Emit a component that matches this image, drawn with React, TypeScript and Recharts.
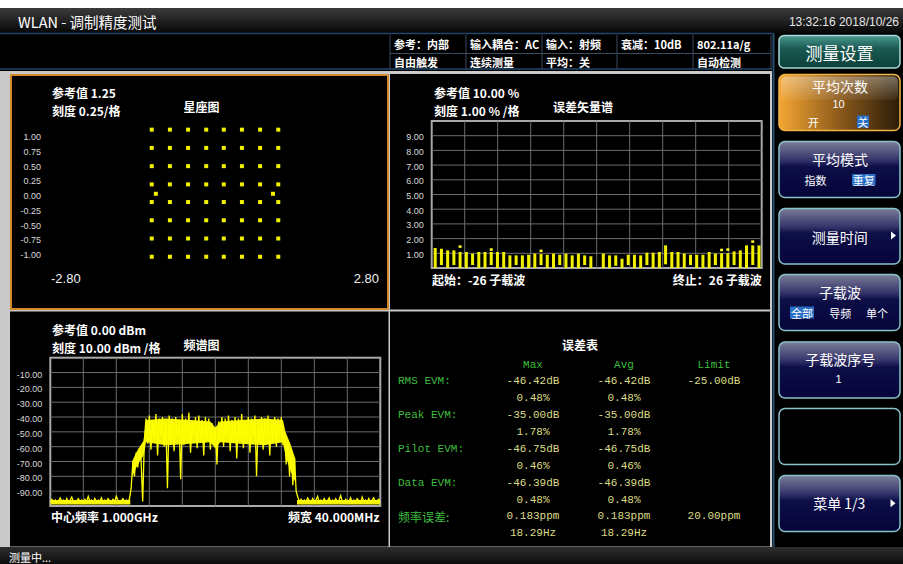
import React from 'react';
import { ScatterChart, Scatter, XAxis, YAxis, ComposedChart, Bar, Line, Area, CartesianGrid } from 'recharts';

// ---------- Constellation (星座图) ----------
const iLevels = [-1.08, -0.77, -0.46, -0.15, 0.15, 0.46, 0.77, 1.08];
const qLevels = [1.13, 0.82, 0.51, 0.2, -0.1, -0.41, -0.72, -1.03];
const pilotI = [-1.01, 0.99];
const pilotQ = [0.04, 0.04];
const constTicks = [-1, -0.75, -0.5, -0.25, 0, 0.25, 0.5, 0.75, 1];
const constXTicks = [-2.8, 2.8];

// ---------- EVM spectrum (误差矢量谱) ----------
const subcarriers = [-26,-25,-24,-23,-22,-21,-20,-19,-18,-17,-16,-15,-14,-13,-12,-11,-10,-9,-8,-7,-6,-5,-4,-3,-2,-1,0,1,2,3,4,5,6,7,8,9,10,11,12,13,14,15,16,17,18,19,20,21,22,23,24,25,26];
const evmHigh = [1.36,1.31,1.2,1.2,1.09,1.09,0.98,1.09,1.09,1.09,1.09,1.09,0.86,0.86,0.86,0.9,0.98,0.95,0.9,0.98,0.9,0.98,0.86,0.98,0.86,0.8,null,0.98,0.86,0.86,0.63,0.9,0.9,0.86,1.04,1.04,1.09,1.54,1.09,1.09,0.98,0.9,0.9,0.9,1.09,0.98,1.0,1.0,1.13,1.2,1.54,1.54,1.54];
const evmLow = [0,0.2,0,0.2,0,0,0.2,0,0,0.2,0,0,0,0.2,0,0,0,0.2,0,0,0.2,0,0,0,0.2,0,null,0,0,0.15,0,0.2,0,0,0.2,0,0,0.25,0,0,0,0.2,0,0,0,0.2,0,0,0.2,0,0,0.2,0];
const evmPeak = [null,null,null,null,1.54,null,null,null,null,1.34,null,null,null,null,null,null,null,1.25,null,null,null,null,null,null,null,null,null,null,null,null,null,null,null,null,null,null,null,null,null,null,null,null,null,null,null,null,1.31,1.34,null,null,null,1.88,null];
const evmTicks = [0,1,2,3,4,5,6,7,8,9,10];

// ---------- Spectrum (频谱图) ----------
const specStartMHz = -20;
const specStepMHz = 0.2;
const floorLeft = [-97,-95.5,-97.5,-96,-98,-96.5,-94.5,-97,-96,-98,-95,-97.5,-96,-94,-97,-98,-96.5,-95,-97,-96,-98,-95.5,-97,-93.5,-97,-96,-98,-95,-97.5,-96,-97,-94.5,-98,-96,-97,-95,-96.5,-98,-95.5,-97,-93.5,-96,-98,-96.5,-95,-97,-96,-98,-95];
const skirtLeft = [-88,-71,-80,-64,-74,-61,-69,-97,-56];
const bandLevels = [-41,-58,-39,-62,-42,-55,-38,-66,-41,-52,-40,-60,-43,-88,-39,-57,-41,-63,-40,-54,-42,-82,-38,-59,-41,-56,-37,-64,-42,-53,-40,-61,-39,-57,-42,-66,-40,-55,-41,-62,-44,-58,-47,-72,-43,-56,-40,-60,-41,-54,-39,-63,-42,-57,-40,-68,-41,-55,-38,-61,-42,-56,-40,-64,-41,-53,-39,-80,-42,-58,-40,-62,-41,-55,-39,-66,-42,-57,-40,-60,-41,-54,-40,-59];
const skirtRight = [-50,-72,-56,-80,-62,-86,-68,-90];
const floorRight = [-94,-97,-95.5,-98,-96,-97,-94.5,-96.5,-98,-95,-97,-96,-93.5,-97.5,-96,-98,-95,-97,-96.5,-94.5,-98,-96,-97,-95,-97.5,-96,-93,-97,-98,-95.5,-96.5,-97,-94.5,-98,-96,-97,-95,-96.5,-98,-94,-97,-96,-97.5,-95,-98,-96,-94.5,-97,-96.5,-95.5,-97];
// dense core of the trace (envelope)
const coreFreq = [-10.1, -9.4, -8.7, -8.4, -6, -3, -0.6, 0, 0.6, 3, 6, 8.2, 8.5, 9.1, 9.7];
const coreHi = [-70, -62, -56, -42, -41, -42, -43, -47, -43, -42, -41, -42, -50, -58, -68];
const coreLo = [-80, -72, -66, -57, -59, -58, -57, -61, -57, -58, -59, -57, -66, -76, -84];
const floorFreq = [-20, -10.3, 0, 9.9, 20];
const floorHi = [-96, -96, null, -96, -96];
const floorLo = [-99, -99, null, -99, -99];
const specTicks = [-100,-90,-80,-70,-60,-50,-40,-30,-20,-10,0];

// ---------- Error table (误差表) ----------
const rowLabels = ['RMS EVM:', 'Peak EVM:', 'Pilot EVM:', 'Data EVM:', '频率误差:'];
const maxVals = [['-46.42dB', '0.48%'], ['-35.00dB', '1.78%'], ['-46.75dB', '0.46%'], ['-46.39dB', '0.48%'], ['0.183ppm', '18.29Hz']];
const avgVals = [['-46.42dB', '0.48%'], ['-35.00dB', '1.78%'], ['-46.75dB', '0.46%'], ['-46.39dB', '0.48%'], ['0.183ppm', '18.29Hz']];
const limitVals = ['-25.00dB', '', '', '', '20.00ppm'];

// ---------- tables for the library ----------
const constData = qLevels.flatMap((q) => iLevels.map((i) => ({ i, q })));
const pilotData = pilotI.map((i, k) => ({ i, q: pilotQ[k] }));
const evmTable = subcarriers.map((sc, k) => ({
  sc,
  rng: evmHigh[k] == null ? null : [evmLow[k], evmHigh[k]],
  pk: evmPeak[k],
}));
const specLevels = [...floorLeft, ...skirtLeft, ...bandLevels, ...skirtRight, ...floorRight];
const specTable = specLevels.map((lvl, k) => ({ f: +(specStartMHz + k * specStepMHz).toFixed(2), lvl }));
const coreTable = coreFreq.map((f, k) => ({ f, core: [coreLo[k], coreHi[k]] }));
const floorTable = floorFreq.map((f, k) => ({ f, fl: floorHi[k] == null ? null : [floorLo[k], floorHi[k]] }));

const F_CJK = "'Noto Sans CJK SC', 'Noto Sans', sans-serif";
const F_SANS = "'Liberation Sans', Arial, sans-serif";
const F_MONO = "'Liberation Mono', 'DejaVu Sans Mono', monospace";

const makeYTick = (hide: number[], dy: number) => (p: any) => {
  const v = p.payload.value;
  if (hide.includes(v)) return <g />;
  return (
    <text x={p.x} y={p.y + dy} textAnchor="end" dominantBaseline="central" fontSize={9} fill="#d8d8d8" fontFamily={F_SANS}>
      {v.toFixed(2)}
    </text>
  );
};

const EdgeTick = (p: any) => {
  const v = p.payload.value;
  return (
    <text x={p.x} y={p.y + 9} textAnchor={v < 0 ? 'start' : 'end'} dominantBaseline="central" fontSize={13} fill="#f0f0f0" fontFamily={F_SANS}>
      {v.toFixed(2)}
    </text>
  );
};

const gridV = (args: any) => {
  const o = args.offset;
  return [1, 2, 3, 4, 5, 6, 7, 8, 9].map((k) => o.left + (k * o.width) / 10);
};
const gridH = (args: any) => {
  const o = args.offset;
  return [1, 2, 3, 4, 5, 6, 7, 8, 9].map((k) => o.top + (k * o.height) / 10);
};

const T = (x: number, y: number, s: string, o: any = {}) => (
  <text
    x={x}
    y={y}
    dominantBaseline="central"
    textAnchor={o.anchor || 'start'}
    fontSize={o.size || 12}
    fontWeight={o.weight || 'normal'}
    fill={o.fill || '#fff'}
    fontFamily={o.font || F_CJK}
  >
    {s}
  </text>
);

function MenuButton({ y, h, kind }: { y: number; h: number; kind: string }) {
  const x = 779;
  const w = 121;
  if (kind === 'orange') {
    return (
      <g>
        <rect x={x} y={y} width={w} height={h} rx={6} fill="url(#gOrange)" stroke="#f2b546" strokeWidth={1.5} />
        <rect x={x + 2} y={y + 2} width={w - 4} height={h * 0.42} rx={5} fill="url(#gGloss)" />
      </g>
    );
  }
  if (kind === 'empty') {
    return <rect x={x} y={y} width={w} height={h} rx={6} fill="#000" stroke="#88c2cb" strokeWidth={1.5} />;
  }
  return <rect x={x} y={y} width={w} height={h} rx={6} fill="url(#gNavy)" stroke="#88c2cb" strokeWidth={1.5} />;
}

const Arrow = ({ x, y }: { x: number; y: number }) => (
  <polygon points={`${x},${y - 4} ${x},${y + 4} ${x + 5},${y}`} fill="#fff" />
);

function Chrome() {
  const infoCols = [390, 466, 542, 617, 693, 771];
  const infoRow1 = ['参考：内部', '输入耦合：AC', '输入：射频', '衰减：10dB', '802.11a/g'];
  const infoRow2 = ['自由触发', '连续测量', '平均：关', '', '自动检测'];
  const rowY = [381, 415, 448.5, 482.5, 516];
  return (
    <svg width={903} height={564} style={{ position: 'absolute', left: 0, top: 0 }}>
      <defs>
        <linearGradient id="gTitle" x1="0" y1="0" x2="0" y2="1">
          <stop offset="0" stopColor="#3c3c3c" />
          <stop offset="1" stopColor="#070707" />
        </linearGradient>
        <linearGradient id="gStatus" x1="0" y1="0" x2="0" y2="1">
          <stop offset="0" stopColor="#2e2e2e" />
          <stop offset="1" stopColor="#0c0c0c" />
        </linearGradient>
        <linearGradient id="gNavy" x1="0" y1="0" x2="0" y2="1">
          <stop offset="0" stopColor="#7c7c98" />
          <stop offset="0.33" stopColor="#34346a" />
          <stop offset="0.45" stopColor="#0e0e48" />
          <stop offset="1" stopColor="#05053a" />
        </linearGradient>
        <linearGradient id="gOrange" x1="0" y1="0" x2="1" y2="0">
          <stop offset="0" stopColor="#f4a634" />
          <stop offset="0.5" stopColor="#8c5a1c" />
          <stop offset="1" stopColor="#2a1c08" />
        </linearGradient>
        <linearGradient id="gGloss" x1="0" y1="0" x2="0" y2="1">
          <stop offset="0" stopColor="#ffffff" stopOpacity="0.35" />
          <stop offset="1" stopColor="#ffffff" stopOpacity="0.05" />
        </linearGradient>
        <linearGradient id="gTeal" x1="0" y1="0" x2="0" y2="1">
          <stop offset="0" stopColor="#4a9a90" />
          <stop offset="0.4" stopColor="#1a5a52" />
          <stop offset="1" stopColor="#0b3f3a" />
        </linearGradient>
      </defs>
      <rect x={0} y={0} width={903} height={564} fill="#ffffff" />
      {/* title bar */}
      <rect x={0} y={8} width={903} height={25} fill="url(#gTitle)" />
      {T(18, 21, 'WLAN - 调制精度测试', { size: 14.5 })}
      {T(899, 22, '13:32:16  2018/10/26', { size: 12, anchor: 'end', font: F_SANS, fill: '#e6e6e6' })}
      {/* info row */}
      <rect x={0} y={33} width={903} height={38} fill="#000" />
      <line x1={0} y1={33.5} x2={772} y2={33.5} stroke="#21466c" strokeWidth={1.5} />
      <line x1={0} y1={69} x2={772} y2={69} stroke="#21466c" strokeWidth={1.5} />
      {infoCols.map((x) => (
        <line key={x} x1={x} y1={35} x2={x} y2={69} stroke="#3a4c60" strokeWidth={1} />
      ))}
      <line x1={390} y1={53.5} x2={771} y2={53.5} stroke="#3a4c60" strokeWidth={1} />
      {infoRow1.map((s, k) => <g key={'a' + k}>{T(infoCols[k] + 4, 43.5, s, { size: 11, weight: 'bold' })}</g>)}
      {infoRow2.map((s, k) => <g key={'b' + k}>{T(infoCols[k] + 4, 61.5, s, { size: 11, weight: 'bold' })}</g>)}
      {/* main frame */}
      <rect x={0} y={71} width={772} height={476} fill="#c9c9c9" />
      <rect x={11} y={75} width={377} height={234} fill="#000" stroke="#d4892a" strokeWidth={2} />
      <rect x={390} y={74} width={380} height={235.5} fill="#000" />
      <rect x={10} y={311.5} width={378.5} height={235} fill="#000" />
      <rect x={390} y={311.5} width={380} height={235} fill="#000" />
      {/* right menu */}
      <rect x={772} y={33} width={131} height={514} fill="#000" />
      <line x1={773.5} y1={33} x2={773.5} y2={547} stroke="#28506e" strokeWidth={2} />
      <rect x={779} y={35.5} width={121} height={32.5} rx={5} fill="url(#gTeal)" stroke="#a8d8d8" strokeWidth={1.5} />
      {T(839.5, 52.5, '测量设置', { size: 17, anchor: 'middle' })}
      <MenuButton y={74.5} h={56} kind="orange" />
      <MenuButton y={141.5} h={56} kind="navy" />
      <MenuButton y={208.5} h={55.5} kind="navy" />
      <MenuButton y={274.5} h={56} kind="navy" />
      <MenuButton y={342} h={56} kind="navy" />
      <MenuButton y={408.5} h={56} kind="empty" />
      <MenuButton y={475.5} h={56} kind="navy" />
      {T(840, 86, '平均次数', { size: 14, anchor: 'middle' })}
      {T(838.5, 104, '10', { size: 11, anchor: 'middle', font: F_SANS })}
      {T(813.5, 121.5, '开', { size: 11, anchor: 'middle' })}
      <rect x={857} y={115.5} width={12} height={12} fill="#2a6fc6" />
      {T(863, 121.5, '关', { size: 11, anchor: 'middle' })}
      {T(840, 158.5, '平均模式', { size: 14, anchor: 'middle' })}
      {T(815.5, 179.5, '指数', { size: 11, anchor: 'middle' })}
      <rect x={852} y={174} width={23.5} height={11.5} fill="#2a6fc6" />
      {T(863.7, 179.7, '重复', { size: 11, anchor: 'middle' })}
      {T(839.7, 236.7, '测量时间', { size: 14, anchor: 'middle' })}
      <Arrow x={891} y={235.5} />
      {T(840, 292, '子载波', { size: 14, anchor: 'middle' })}
      <rect x={790} y={306.5} width={24} height={12} fill="#2a6fc6" />
      {T(802, 312.5, '全部', { size: 11, anchor: 'middle' })}
      {T(840.3, 312.7, '导频', { size: 11, anchor: 'middle' })}
      {T(877, 312.7, '单个', { size: 11, anchor: 'middle' })}
      {T(840.3, 359, '子载波序号', { size: 14, anchor: 'middle' })}
      {T(838.5, 379.3, '1', { size: 11, anchor: 'middle', font: F_SANS })}
      {T(839.3, 503.3, '菜单 1/3', { size: 14, anchor: 'middle' })}
      <Arrow x={890.5} y={503.3} />
      {/* status bar */}
      <rect x={0} y={547} width={903} height={17} fill="url(#gStatus)" />
      {T(9, 557, '测量中...', { size: 11 })}
      {/* panel titles */}
      {T(52, 92, '参考值 1.25', { weight: 'bold' })}
      {T(52, 110, '刻度 0.25/格', { weight: 'bold' })}
      {T(201.5, 106, '星座图', { weight: 'bold', anchor: 'middle' })}
      {T(434, 92, '参考值 10.00 %', { weight: 'bold' })}
      {T(434, 110, '刻度 1.00 % /格', { weight: 'bold' })}
      {T(583, 106, '误差矢量谱', { weight: 'bold', anchor: 'middle' })}
      {T(432, 279.5, '起始：-26 子载波', { weight: 'bold' })}
      {T(761.7, 279.5, '终止：26 子载波', { weight: 'bold', anchor: 'end' })}
      {T(52, 329.5, '参考值 0.00 dBm', { weight: 'bold' })}
      {T(52, 347.5, '刻度 10.00 dBm /格', { weight: 'bold' })}
      {T(201.5, 344.5, '频谱图', { weight: 'bold', anchor: 'middle' })}
      {T(51, 516.5, '中心频率 1.000GHz', { weight: 'bold' })}
      {T(379.5, 516.5, '频宽 40.000MHz', { weight: 'bold', anchor: 'end' })}
      {/* plot borders */}
      <rect x={431.7} y={121} width={330} height={147} fill="none" stroke="#a9a9a9" strokeWidth={2} />
      <rect x={50.3} y={357.7} width={330} height={148.3} fill="none" stroke="#a9a9a9" strokeWidth={2} />
      {/* error table */}
      {T(580, 344.5, '误差表', { weight: 'bold', anchor: 'middle' })}
      {T(533, 364.5, 'Max', { size: 11, anchor: 'middle', font: F_MONO, fill: '#3fbe3f' })}
      {T(624, 364.5, 'Avg', { size: 11, anchor: 'middle', font: F_MONO, fill: '#3fbe3f' })}
      {T(714, 364.5, 'Limit', { size: 11, anchor: 'middle', font: F_MONO, fill: '#3fbe3f' })}
      {rowLabels.map((s, k) => (
        <g key={'r' + k}>
          {T(398, rowY[k], s, { size: k === 4 ? 12 : 11, font: k === 4 ? F_CJK : F_MONO, fill: '#3fbe3f' })}
          {T(533, rowY[k], maxVals[k][0], { size: 11, anchor: 'middle', font: F_MONO, fill: '#dcdc86' })}
          {T(533, rowY[k] + 17, maxVals[k][1], { size: 11, anchor: 'middle', font: F_MONO, fill: '#dcdc86' })}
          {T(624, rowY[k], avgVals[k][0], { size: 11, anchor: 'middle', font: F_MONO, fill: '#dcdc86' })}
          {T(624, rowY[k] + 17, avgVals[k][1], { size: 11, anchor: 'middle', font: F_MONO, fill: '#dcdc86' })}
          {limitVals[k] ? T(714, rowY[k], limitVals[k], { size: 11, anchor: 'middle', font: F_MONO, fill: '#dcdc86' }) : null}
        </g>
      ))}
    </svg>
  );
}

export default function App() {
  return (
    <div style={{ position: 'fixed', left: 0, top: 0, width: 903, height: 564, overflow: 'hidden', background: '#fff' }}>
      <Chrome />
      {/* constellation */}
      <div style={{ position: 'absolute', left: 10, top: 74 }}>
        <ScatterChart width={378} height={234} margin={{ top: 48.6, right: 9, bottom: 8.3, left: 0 }}>
          <XAxis type="number" dataKey="i" domain={[-2.8, 2.8]} ticks={constXTicks} interval={0} axisLine={false} tickLine={false} tickSize={0} tickMargin={0} height={30} tick={EdgeTick} />
          <YAxis type="number" dataKey="q" domain={[-1.25, 1.25]} ticks={constTicks} interval={0} axisLine={false} tickLine={false} tickSize={0} tickMargin={10} width={41} tick={makeYTick([], 0)} />
          <Scatter data={constData} isAnimationActive={false} shape={(p: any) => <rect x={p.cx - 2} y={p.cy - 2} width={4} height={4} fill="#f2f200" />} />
          <Scatter data={pilotData} isAnimationActive={false} shape={(p: any) => <rect x={p.cx - 2} y={p.cy - 2} width={4} height={4} fill="#f2f200" />} />
        </ScatterChart>
      </div>
      {/* EVM spectrum */}
      <div style={{ position: 'absolute', left: 390, top: 74 }}>
        <ComposedChart width={381} height={234} data={evmTable} margin={{ top: 47, right: 9.3, bottom: 40, left: 0 }}>
          <CartesianGrid stroke="#6c6c6c" strokeWidth={1} verticalCoordinatesGenerator={gridV} horizontalCoordinatesGenerator={gridH} />
          <XAxis xAxisId="a" dataKey="sc" type="category" hide />
          <XAxis xAxisId="b" dataKey="sc" type="category" hide />
          <YAxis type="number" domain={[0, 10]} ticks={evmTicks} interval={0} axisLine={false} tickLine={false} tickSize={0} tickMargin={8} width={41.7} tick={makeYTick([0, 10], 1.5)} />
          <Bar xAxisId="a" dataKey="rng" barSize={3} fill="#f0f000" isAnimationActive={false} />
          <Bar
            xAxisId="b"
            dataKey="pk"
            barSize={3}
            fill="#ffff30"
            isAnimationActive={false}
            shape={(p: any) => (p.height ? <rect x={p.x} y={p.y} width={p.width} height={2.5} fill="#ffff30" /> : <g />)}
          />
        </ComposedChart>
      </div>
      {/* spectrum */}
      <div style={{ position: 'absolute', left: 10, top: 311 }}>
        <ComposedChart width={378} height={235} data={specTable} margin={{ top: 46.7, right: 7.7, bottom: 40, left: 0 }}>
          <CartesianGrid stroke="#6c6c6c" strokeWidth={1} verticalCoordinatesGenerator={gridV} horizontalCoordinatesGenerator={gridH} />
          <XAxis type="number" dataKey="f" domain={[-20, 20]} hide allowDataOverflow />
          <YAxis type="number" domain={[-100, 0]} ticks={specTicks} interval={0} axisLine={false} tickLine={false} tickSize={0} tickMargin={8} width={40.3} tick={makeYTick([-100, 0], 2)} allowDataOverflow />
          <Area data={coreTable} dataKey="core" type="linear" stroke="none" fill="#f4f400" fillOpacity={1} isAnimationActive={false} />
          <Area data={floorTable} dataKey="fl" type="linear" stroke="none" fill="#f4f400" fillOpacity={1} isAnimationActive={false} />
          <Line dataKey="lvl" type="linear" stroke="#ffff00" strokeWidth={1.3} dot={false} isAnimationActive={false} />
        </ComposedChart>
      </div>
    </div>
  );
}
